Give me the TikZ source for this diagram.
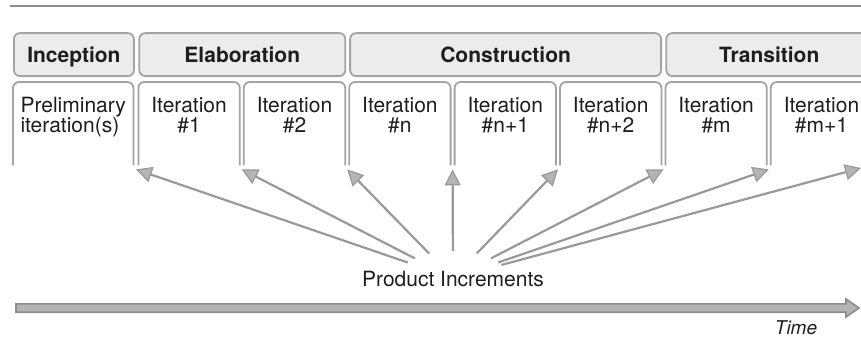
\documentclass[tikz,border=0pt]{standalone}
\usepackage{fontspec}
\setmainfont{TeX Gyre Heros}
\usepackage{xcolor}
\usetikzlibrary{arrows.meta,positioning,shapes.geometric,calc}
\definecolor{ink}{HTML}{1E1E1E}
\definecolor{framegray}{HTML}{A4A4A4}
\definecolor{phasefill}{HTML}{ECECEC}
\definecolor{linegray}{HTML}{999999}
\definecolor{tipfill}{HTML}{B4B4B4}
\definecolor{rulegray}{HTML}{8C8C8C}

\begin{document}
\begin{tikzpicture}[x=1pt,y=-1pt,
  txt/.style={font=\fontsize{21}{20}\selectfont,text=ink},
  phase/.style={txt,font=\fontsize{21}{20}\selectfont\bfseries,draw=framegray,
                fill=phasefill,line width=1.8pt,rounded corners=6pt,
                minimum height=43pt,text height=15pt,text depth=0pt,inner sep=0pt},
  iter/.style={minimum width=101pt,minimum height=83pt,inner sep=0pt},
  frame/.style={draw=framegray,line width=1.8pt,rounded corners=6pt},
  itxt/.style={txt,align=center,anchor=north,inner sep=0pt,yshift=-14.7pt},
  inc/.style={draw=linegray,line width=2.2pt,
              -{Triangle[length=16pt,width=16pt,fill=tipfill,line width=1.2pt]}},
  timebar/.style={draw=rulegray,fill=tipfill,line width=1.6pt}
]
\useasboundingbox (0,0) rectangle (861,341);
\clip (0,0) rectangle (861,341);
\draw[rulegray,line width=2pt] (10,6) -- (861,6);

% iteration columns
\node[iter,minimum width=120pt,anchor=north west] (prelim) at (13,82) {};
\node[iter,right=5pt of prelim] (it1) {};
\node[iter,right=4pt of it1] (it2) {};
\node[iter,right=4pt of it2] (itn) {};
\node[iter,right=4pt of itn] (itn1) {};
\node[iter,right=4pt of itn1] (itn2) {};
\node[iter,right=4pt of itn2] (itm) {};
\node[iter,right=4pt of itm] (itm1) {};
\foreach \b in {prelim,it1,it2,itn,itn1,itn2,itm,itm1}
  \draw[frame] (\b.south west) -- (\b.north west) -- (\b.north east) -- (\b.south east);

\node[itxt,align=left] (tprelim) at (prelim.north) {Preliminary\\iteration(s)};
\node[itxt] (t1) at (it1.north) {Iteration\\\#1};
\node[itxt] (t2) at (it2.north) {Iteration\\\#2};
\node[itxt] (tn) at (itn.north) {Iteration\\\#n};
\node[itxt] (tn1) at (itn1.north) {Iteration\\\#n+1};
\node[itxt] (tn2) at (itn2.north) {Iteration\\\#n+2};
\node[itxt] (tm) at (itm.north) {Iteration\\\#m};
\node[itxt] (tm1) at (itm1.north) {Iteration\\\#m+1};

% phases
\node[phase,minimum width=120pt,above right=5pt and 0pt of prelim.north west] (inception) {Inception};
\node[phase,minimum width=206pt,above right=5pt and 0pt of it1.north west] (elaboration) {Elaboration};
\node[phase,minimum width=311pt,above right=5pt and 0pt of itn.north west] (construction) {Construction};
\node[phase,minimum width=206pt,above right=5pt and 0pt of itm.north west] (transition) {Transition};

% increments
\node[txt] (prod) at (453,279) {Product Increments};
\node[ellipse,minimum width=110pt,minimum height=54pt,inner sep=0pt] (hub) at (453,278) {};
\coordinate (edge) at (861,168);
\foreach \a/\b in {prelim/it1,it1/it2,it2/itn,itn/itn1,itn1/itn2,itn2/itm,itm/itm1}
  \draw[inc] (hub) -- ($(\a.south east)!.5!(\b.south west)+(0,4)$);
\draw[inc] (hub) -- (edge);

% time line
\draw[timebar] (16,303.8) -- (846,303.8) -- (846,299) -- (859,308) -- (846,317)
  -- (846,312.2) -- (16,312.2) -- cycle;
\node[txt,font=\fontsize{19}{20}\selectfont\itshape] (timelbl) at (796,328) {Time};
\end{tikzpicture}
\end{document}
